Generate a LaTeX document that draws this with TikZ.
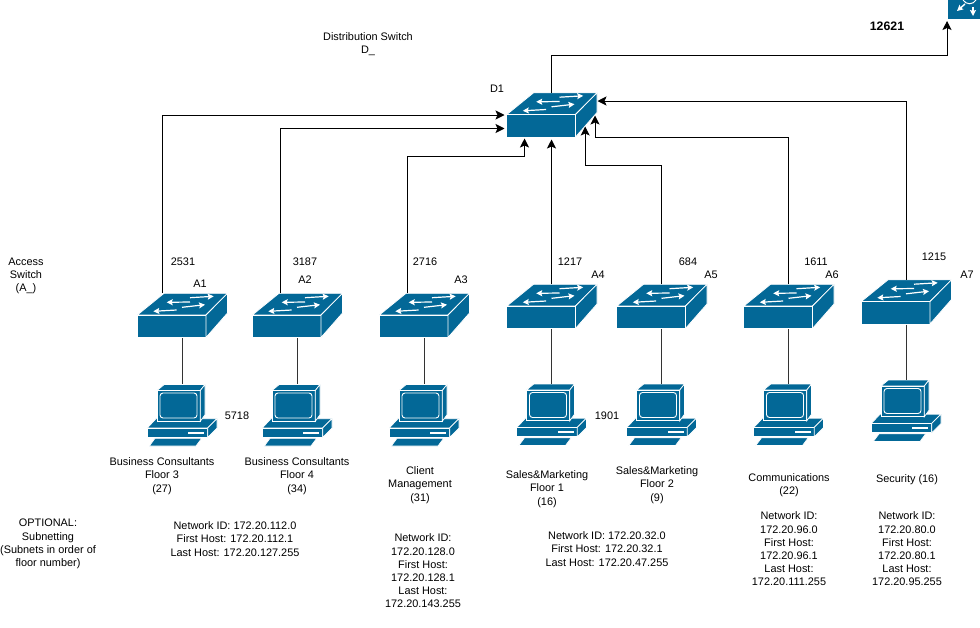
\documentclass[tikz,border=0pt]{standalone}
\usepackage{fontspec}
\setmainfont{Liberation Sans}
\usetikzlibrary{arrows.meta,positioning}
\definecolor{netblue}{HTML}{036897}
\tikzset{
  lbl/.style={inner sep=0pt, yshift=-1pt, align=center, font=\fontsize{10.9}{13.2}\selectfont},
  flow/.style={line width=0.9pt, draw=black, -{Stealth[length=9pt,width=9pt,inset=2pt]}},
  wire/.style={line width=0.9pt, draw=black!80},
  glyph/.style={-{Stealth[length=6pt,width=6pt,inset=1pt]}, draw=white, line width=1.2pt},
  switchbox/.style={inner sep=0pt, outer sep=0pt, minimum width=90pt, minimum height=45pt},
  pcbox/.style={inner sep=0pt, outer sep=0pt, minimum width=70pt, minimum height=62pt},
  routerbox/.style={inner sep=0pt, outer sep=0pt, minimum width=32pt, minimum height=19pt, fill=netblue},
  pics/switchicon/.style={code={
    \begin{scope}[draw=white, line width=0.8pt]
      \filldraw[fill=netblue] (27,0.3) -- (90.5,0.3) -- (69,22) -- (0.3,22) -- cycle;
      \filldraw[fill=netblue] (0.3,22) -- (69,22) -- (69,44.5) -- (0.3,44.5) -- cycle;
      \filldraw[fill=netblue] (69,22) -- (90.5,0.3) -- (90.5,20) -- (69,44.5) -- cycle;
      \draw[glyph] (53,4.7) -- (76.7,3.3);
      \draw[glyph] (53,9) -- (29.7,9.3);
      \draw[glyph] (45,14.3) -- (68,11.7);
      \draw[glyph] (39.7,17) -- (16.3,18.3);
    \end{scope}
  }},
  pics/pcicon/.style={code={
    \begin{scope}[draw=white, line width=0.7pt]
      % base
      \filldraw[fill=netblue] (0.3,44) -- (9,34.7) -- (70,34.7) -- (60.7,44) -- cycle;
      \filldraw[fill=netblue] (0.3,44) -- (60.7,44) -- (60.7,53.3) -- (0.3,53.3) -- cycle;
      \filldraw[fill=netblue] (60.7,44) -- (70,34.7) -- (70,44) -- (60.7,53.3) -- cycle;
      \fill[white] (41.3,47.5) rectangle (57.3,49.7);
      % monitor
      \filldraw[fill=netblue] (10,6.5) -- (17.3,0.5) -- (58,0.5) -- (53.3,6.5) -- cycle;
      \filldraw[fill=netblue] (10,6.5) -- (53.3,6.5) -- (53.3,37.3) -- (10,37.3) -- cycle;
      \filldraw[fill=netblue] (53.3,6.5) -- (58,0.5) -- (58,30.7) -- (53.3,37.3) -- cycle;
      \draw[rounded corners=3pt, line width=0.9pt] (13,9) rectangle (50,34);
      % keyboard
      \filldraw[fill=netblue] (2.3,62) -- (8,54.3) -- (54.7,54.3) -- (49,62) -- cycle;
    \end{scope}
  }},
  pics/routericon/.style={code={
    \draw[white, line width=1pt] (15,0) .. controls (18,5) and (25,5) .. (28,0);
    \draw[glyph, line width=1.4pt] (17,4) -- (9,11);
    \draw[glyph, line width=1.4pt] (25,7) -- (25,16);
  }}
}
\begin{document}
\begin{tikzpicture}[x=1pt,y=-1pt]
    \useasboundingbox (0,0) rectangle (980,627);
    % Add the switches
    \node[switchbox] (A1) at (182,315.5) {};
    \node[switchbox, right=25pt of A1] (A2) {};
    \node[switchbox, right=37pt of A2] (A3) {};
    \node[switchbox, right=37.5pt of A3, yshift=9pt] (A4) {};
    \node[switchbox, right=20pt of A4] (A5) {};
    \node[switchbox, right=37pt of A5] (A6) {};
    \node[switchbox, right=27.5pt of A6, yshift=4.5pt] (A7) {};
    \node[switchbox, above=146.5pt of A4] (D1) {};
    \node[routerbox, anchor=north west] (R1) at (948,0) {};
    % Add the computers
    \node[pcbox, below=46pt of A1] (PC1) {};
    \node[pcbox, below=46pt of A2] (PC2) {};
    \node[pcbox, below=46pt of A3] (PC3) {};
    \node[pcbox, below=54.5pt of A4] (PC4) {};
    \node[pcbox, below=54.5pt of A5] (PC5) {};
    \node[pcbox, below=54.5pt of A6] (PC6) {};
    \node[pcbox, below=55pt of A7] (PC7) {};
    % Draw the icons
    \foreach \n in {A1,A2,A3,A4,A5,A6,A7,D1}
        \pic at (\n.north west) {switchicon};
    \foreach \n in {PC1,PC2,PC3,PC4,PC5,PC6,PC7}
        \pic at (\n.north west) {pcicon};
    \pic at (R1.north west) {routericon};
    % Connect switches and computers
    \draw[wire] (A1) -- (PC1);
    \draw[wire] (A2) -- (PC2);
    \draw[wire] (A3) -- (PC3);
    \draw[wire] (A4) -- (PC4);
    \draw[wire] (A5) -- (PC5);
    \draw[wire] (A6) -- (PC6);
    \draw[wire] (A7) -- (PC7);
    % Connect the access switches to the distribution switch
    \draw[flow] ([xshift=-20pt]A1.north) |- ([xshift=-2pt]D1.west);
    \draw[flow] ([xshift=-17pt]A2.north) |- ([xshift=-2pt,yshift=-13.5pt]D1.west);
    \draw[flow] ([xshift=-17pt]A3.north) |- ([xshift=-27pt,yshift=-18.5pt]D1.south)
        -- ([xshift=-27pt,yshift=-1pt]D1.south);
    \draw[flow] (A4.north) -- ([yshift=-2pt]D1.south);
    \draw[flow] (A5.north) |- ([xshift=33.7pt,yshift=-28pt]D1.south)
        -- ([xshift=33.7pt,yshift=11pt]D1.south);
    \draw[flow] (A6.north) |- ([xshift=43.5pt]D1.south)
        -- ([xshift=43.5pt,yshift=22pt]D1.south);
    \draw[flow] (A7.north) |- ([xshift=1pt,yshift=14pt]D1.east);
    \draw[flow] (D1.north) -- ++(0,-37) -| ([xshift=-1pt,yshift=-2pt]R1.south west);
    % Labels
    \node[lbl] (title) at (368,43) {Distribution Switch\\D\_};
    \node[lbl, font=\fontsize{12.3}{14}\selectfont\bfseries] (total) at (887,25) {12621};
    \node[lbl] (nameD) at (497,88) {D1};
    \node[lbl] (access) at (26,275) {Access\\Switch\\(A\_)};
    \node[lbl] (n1) at (183,261) {2531};
    \node[lbl] (n2) at (305,261) {3187};
    \node[lbl] (n3) at (425,261) {2716};
    \node[lbl] (n4) at (570,261) {1217};
    \node[lbl] (n5) at (688,261) {684};
    \node[lbl] (n6) at (816,261) {1611};
    \node[lbl] (n7) at (934,256) {1215};
    \node[lbl] (nameA1) at (200,283) {A1};
    \node[lbl] (nameA2) at (305,279) {A2};
    \node[lbl] (nameA3) at (461,279) {A3};
    \node[lbl] (nameA4) at (598,274) {A4};
    \node[lbl] (nameA5) at (711,274) {A5};
    \node[lbl] (nameA6) at (832,274) {A6};
    \node[lbl] (nameA7) at (967,274) {A7};
    \node[lbl] (n8) at (237,415) {5718};
    \node[lbl] (n9) at (607,415) {1901};
    % Departments
    \node[lbl] (dep1) at (162,475) {Business Consultants\\Floor 3\\(27)};
    \node[lbl] (dep2) at (297,475) {Business Consultants\\Floor 4\\(34)};
    \node[lbl] (dep3) at (420,484) {Client\\Management\\(31)};
    \node[lbl] (dep4) at (547,488) {Sales\&Marketing\\Floor 1\\(16)};
    \node[lbl] (dep5) at (657,484) {Sales\&Marketing\\Floor 2\\(9)};
    \node[lbl] (dep6) at (789,484) {Communications\\(22)};
    \node[lbl] (dep7) at (907,479) {Security (16)};
    % Subnets
    \node[lbl] (optional) at (48,543) {OPTIONAL:\\Subnetting\\(Subnets in order of\\floor number)};
    \node[lbl] (net1) at (235,538) {Network ID: 172.20.112.0\\First Host: 172.20.112.1\\Last Host: 172.20.127.255};
    \node[lbl] (net3) at (423,570) {Network ID:\\172.20.128.0\\First Host:\\172.20.128.1\\Last Host:\\172.20.143.255};
    \node[lbl] (net4) at (607,548) {Network ID: 172.20.32.0\\First Host: 172.20.32.1\\Last Host: 172.20.47.255};
    \node[lbl] (net6) at (789,548) {Network ID:\\172.20.96.0\\First Host:\\172.20.96.1\\Last Host:\\172.20.111.255};
    \node[lbl] (net7) at (907,548) {Network ID:\\172.20.80.0\\First Host:\\172.20.80.1\\Last Host:\\172.20.95.255};
\end{tikzpicture}
\end{document}
